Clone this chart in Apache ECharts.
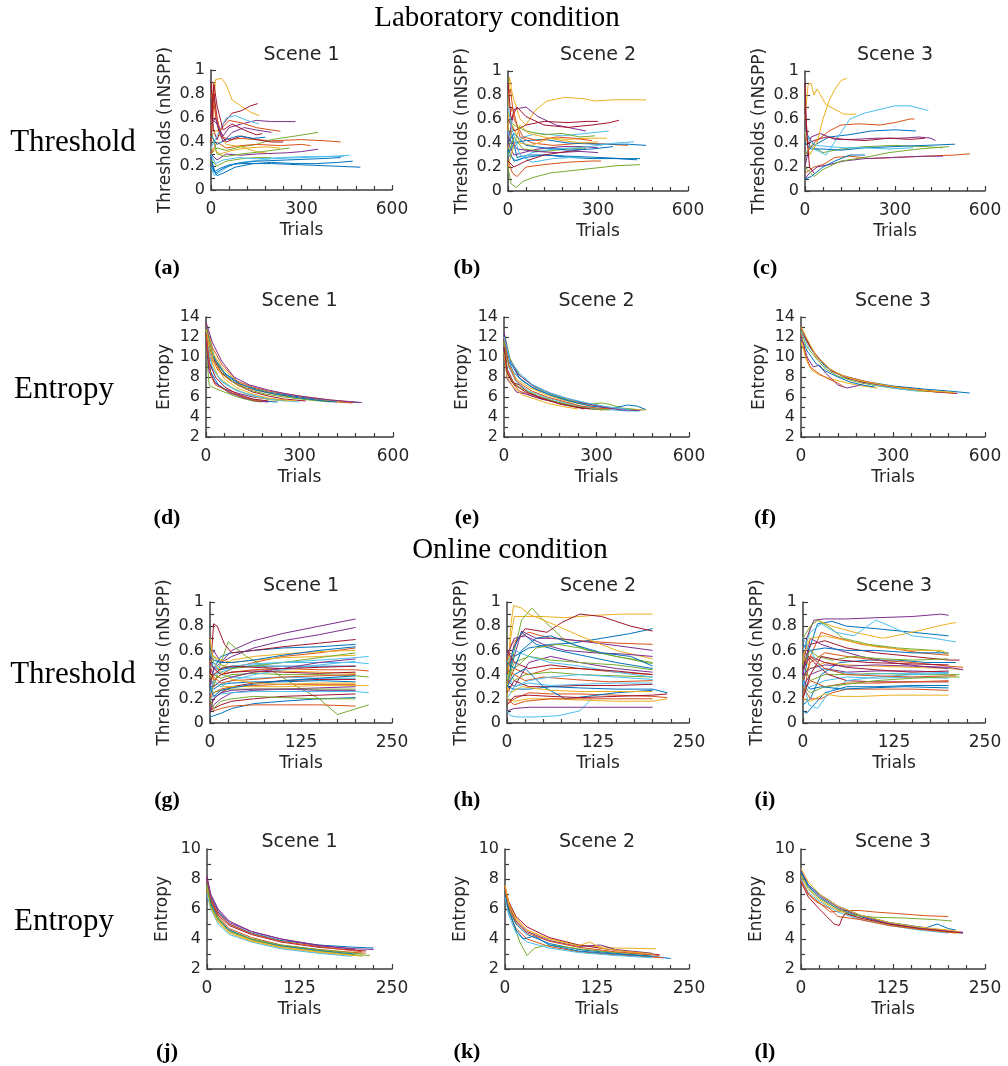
<!DOCTYPE html>
<html><head><meta charset="utf-8">
<script src="https://cdn.jsdelivr.net/npm/echarts@6/dist/echarts.min.js"></script>
<style>html,body{margin:0;padding:0;background:#fff}#c{width:1008px;height:1066px}</style>
</head><body><div id="c"></div>
<script>
// ---- DATA: each line = flat list x0,y0,x1,y1,... ----
const labScene1Thr = [
 [0,0.3,10,0.15,30,0.18,60,0.21,100,0.22,200,0.22,300,0.21,400,0.2,495,0.19],
 [0,0.5,8,0.9,15,0.6,30,0.45,60,0.42,100,0.43,200,0.41,300,0.42,380,0.41,430,0.40],
 [0,0.4,15,0.92,35,0.93,50,0.88,70,0.75,100,0.7,130,0.65,160,0.62],
 [0,0.6,20,0.55,40,0.45,60,0.52,100,0.55,150,0.58,200,0.57,280,0.57],
 [0,0.3,20,0.35,50,0.33,100,0.36,150,0.38,200,0.42,280,0.45,355,0.48],
 [0,0.2,10,0.12,30,0.15,60,0.2,100,0.23,200,0.26,300,0.27,400,0.28,460,0.29],
 [0,0.9,8,0.5,20,0.42,40,0.55,70,0.64,100,0.66,130,0.7,155,0.72],
 [0,0.25,15,0.14,40,0.18,80,0.22,150,0.24,250,0.25,350,0.26,430,0.27],
 [0,0.3,20,0.4,50,0.35,100,0.37,150,0.38,230,0.37,300,0.38,330,0.37],
 [0,0.45,20,0.5,50,0.38,100,0.36,150,0.32,200,0.3],
 [0,0.3,20,0.25,50,0.3,100,0.29,150,0.3,250,0.31,300,0.32,355,0.34],
 [0,0.5,20,0.3,50,0.28,100,0.3,170,0.32,230,0.34,260,0.35],
 [0,0.35,20,0.45,50,0.6,80,0.62,120,0.58,160,0.55],
 [0,0.4,10,0.8,25,0.5,50,0.4,100,0.45,150,0.42,200,0.40,240,0.4],
 [0,0.45,20,0.38,50,0.42,90,0.45,140,0.43,180,0.44],
 [0,0.8,10,0.7,30,0.5,60,0.58,100,0.56,150,0.52,200,0.5,230,0.49],
 [0,0.35,30,0.3,70,0.33,120,0.35,180,0.36,230,0.35],
 [0,0.55,15,0.6,40,0.4,70,0.48,110,0.52,150,0.5,200,0.48],
 [0,0.25,20,0.2,50,0.24,100,0.26,150,0.27,200,0.27],
 [0,0.3,15,0.22,40,0.25,90,0.27,150,0.26,230,0.27,330,0.28,440,0.28],
 [0,0.6,10,0.88,20,0.7,40,0.5,70,0.55,110,0.5,150,0.46,170,0.47],
 [0,0.2,20,0.12,40,0.14,80,0.19,140,0.22,200,0.23,280,0.22,350,0.22,420,0.23,470,0.24]
];
const labScene2Thr = [
 [0,0.3,10,0.5,30,0.28,70,0.3,130,0.3,200,0.28,280,0.27,360,0.27,430,0.26],
 [0,0.6,15,0.7,40,0.45,80,0.4,150,0.38,250,0.4,330,0.39,400,0.38],
 [0,0.5,5,0.95,15,0.8,40,0.6,60,0.55,90,0.67,130,0.75,190,0.78,250,0.77,290,0.75,350,0.76,400,0.76,460,0.76],
 [0,0.4,20,0.68,60,0.7,100,0.62,160,0.55,220,0.52,260,0.5],
 [0,0.2,10,0.06,28,0.03,50,0.08,80,0.11,140,0.15,250,0.18,360,0.21,440,0.22],
 [0,0.5,15,0.35,50,0.45,100,0.48,180,0.46,260,0.48,336,0.5],
 [0,0.9,10,0.6,30,0.7,60,0.62,120,0.55,200,0.53,280,0.55,340,0.57,370,0.59],
 [0,0.3,20,0.4,60,0.42,120,0.43,200,0.4,300,0.39,400,0.39,460,0.38],
 [0,0.25,15,0.15,30,0.12,60,0.2,120,0.22,200,0.24,280,0.25,310,0.25],
 [0,0.35,15,0.55,40,0.4,80,0.38,140,0.44,200,0.43,270,0.44,330,0.44],
 [0,0.4,20,0.3,50,0.32,100,0.35,180,0.37,250,0.37,300,0.36],
 [0,0.3,20,0.45,50,0.35,120,0.33,200,0.35,260,0.36],
 [0,0.3,30,0.25,80,0.32,150,0.35,230,0.36,300,0.38,360,0.4,420,0.41],
 [0,0.6,20,0.5,60,0.55,120,0.58,200,0.57,260,0.58,300,0.58],
 [0,0.35,20,0.25,60,0.28,120,0.3,200,0.29,300,0.28,380,0.27,440,0.27],
 [0,0.8,8,0.85,20,0.6,50,0.45,100,0.42,160,0.45,220,0.44,280,0.42],
 [0,0.2,10,0.3,40,0.55,70,0.48,120,0.45,180,0.42,250,0.4,300,0.41],
 [0,0.45,30,0.35,90,0.33,160,0.32,240,0.33,300,0.32],
 [0,0.6,20,0.55,60,0.5,120,0.47,180,0.48,240,0.45,290,0.46],
 [0,0.7,15,0.5,40,0.3,80,0.24,150,0.27,210,0.28,250,0.28],
 [0,0.25,20,0.2,60,0.25,120,0.3,200,0.33,260,0.35],
 [0,0.4,20,0.48,60,0.38,120,0.36,200,0.34,280,0.35,350,0.37]
];
const labScene3Thr = [
 [0,0.5,30,0.38,80,0.45,150,0.47,220,0.5,300,0.51,370,0.5],
 [0,0.3,30,0.4,80,0.5,120,0.55,180,0.56,250,0.55,300,0.57,350,0.6,365,0.6],
 [0,0.6,10,0.88,20,0.9,30,0.8,40,0.85,70,0.72,100,0.68,130,0.64,170,0.64],
 [0,0.2,20,0.45,50,0.48,100,0.43,160,0.43,240,0.44,320,0.44,380,0.45,420,0.44,435,0.42],
 [0,0.3,20,0.38,60,0.32,120,0.35,200,0.37,300,0.38,400,0.37,460,0.36],
 [0,0.4,30,0.35,70,0.3,110,0.45,150,0.6,200,0.65,250,0.68,300,0.71,350,0.71,411,0.67],
 [0,0.7,10,0.4,30,0.42,70,0.45,130,0.43,200,0.42,280,0.44,350,0.43,400,0.44],
 [0,0.4,20,0.35,60,0.35,120,0.34,200,0.36,300,0.37,400,0.38,500,0.39],
 [0,0.15,30,0.2,60,0.22,100,0.28,150,0.29,220,0.27,300,0.28,400,0.29,500,0.3,550,0.31],
 [0,0.5,15,0.3,40,0.4,60,0.6,80,0.75,100,0.85,120,0.92,140,0.94],
 [0,0.1,15,0.15,40,0.2,80,0.22,130,0.25,200,0.27,300,0.28,400,0.29,460,0.29],
 [0,0.2,30,0.12,60,0.18,120,0.25,200,0.28,280,0.32,380,0.35,480,0.37],
 [0,0.5,15,0.42,40,0.38,80,0.37,130,0.36,200,0.36,280,0.35,360,0.36],
 [0,0.9,5,0.5,15,0.2,30,0.15],
 [0,0.1,20,0.12,60,0.2,100,0.25,150,0.3,200,0.3]
];
const labScene1Ent = [
 [0,13,10,11,30,9.5,60,8.3,100,7.4,150,6.9,200,6.5,300,6,400,5.6,490,5.45],
 [0,12.5,15,10,40,8.6,80,7.6,130,6.9,200,6.4,300,5.9,400,5.55,470,5.4],
 [0,13,20,10.5,50,9,100,7.5,150,6.8,250,6.1,350,5.7,440,5.5],
 [0,12,10,9,25,7.5,60,6.8,100,6.4,150,6,200,5.8,250,5.7],
 [0,11,10,7.2,20,7,50,6.6,100,6,150,5.6,180,5.5],
 [0,12.5,20,9,50,7.5,100,6.6,150,6.2,200,5.8,280,5.55,300,5.5],
 [0,13,20,10,50,8.4,100,7.2,150,6.5,200,6.1,250,5.8,320,5.6],
 [0,12,15,8.5,40,7.2,80,6.4,130,5.9,180,5.6,230,5.5],
 [0,13.2,20,11,50,9.3,100,7.6,150,7,200,6.6,300,6.1,400,5.7,480,5.45],
 [0,12.8,15,9.8,40,8,80,7,120,6.4,160,6,210,5.7,260,5.6],
 [0,11.5,10,8.5,30,7.4,70,6.5,120,5.9,160,5.6,200,5.5],
 [0,13,30,9.7,60,8.2,100,7.2,140,6.7,190,6.3,250,6,330,5.7,400,5.5],
 [0,12,20,8.8,50,7.6,90,6.8,140,6.2,200,5.8,260,5.6],
 [0,12.5,10,9.5,30,8,60,7,100,6.3,150,5.8,200,5.6],
 [0,13,20,10.2,60,8.4,110,7.3,160,6.7,220,6.3,300,5.9,380,5.6,420,5.5],
 [0,12.2,15,8.2,30,7.2,70,6.6,110,6.1,150,5.7,180,5.6],
 [0,12.8,25,9.5,60,7.8,100,6.9,150,6.3,200,5.9,250,5.7,290,5.6],
 [0,13.5,20,11.5,50,9.6,90,8,140,7.2,200,6.7,260,6.3,320,6,400,5.7,500,5.45]
];
const labScene2Ent = [
 [0,12.5,10,10,30,8.5,60,7.6,100,6.8,160,6.1,220,5.6,300,5.1,380,4.8,450,4.7],
 [0,11.5,10,8.5,30,7.3,50,6.6,100,6,150,5.6,200,5.2,260,4.9,320,4.7],
 [0,12,15,9.3,40,7.8,80,7,130,6.3,190,5.7,250,5.3,330,5,400,4.8,460,4.7],
 [0,11,10,7.8,25,7.2,40,6.5,70,6.3,120,5.8,180,5.4,240,5,300,4.75],
 [0,12.5,20,9.8,50,8.2,100,7,160,6.2,220,5.6,280,5.3,320,5.4,350,5.2,380,4.9,430,4.75],
 [0,12,15,9,40,7.5,80,6.6,140,5.9,200,5.4,260,5,330,4.75,400,4.6,440,4.6],
 [0,11.8,10,8.8,35,7.2,70,6.5,120,5.9,170,5.5,220,5.1,260,4.8],
 [0,12.2,20,9.5,50,7.9,90,7,150,6.2,210,5.6,280,5.1,350,4.85,400,5.2,430,5.1,460,4.75],
 [0,12,15,9.2,40,7.6,90,6.6,140,6,200,5.5,250,5.1,300,4.9,350,4.8],
 [0,10.5,10,8,30,7,60,6.2,100,5.8,150,5.3,200,5,240,4.8],
 [0,12.5,15,10,45,8.3,90,7.2,150,6.4,200,5.9,260,5.4,320,5.0,380,4.7,440,4.65],
 [0,11.5,12,8.3,30,7.4,60,6.8,110,6.1,170,5.5,230,5.1,290,4.8,340,4.7],
 [0,12,20,9.6,50,8.4,90,7.3,140,6.5,200,5.9,270,5.4,340,5.0,410,4.75],
 [0,11,10,8.5,25,7.5,50,7.2,80,6.4,130,5.8,180,5.3,230,5.0,280,4.8]
];
const labScene3Ent = [
 [0,13,15,12,40,10.5,80,9,130,8.2,200,7.6,300,7.1,400,6.8,480,6.6,550,6.4],
 [0,12.5,20,11.5,50,10,100,8.6,150,8,220,7.5,300,7,400,6.7,500,6.4],
 [0,11.5,20,9.5,35,8.7,60,8.2,100,7.8,150,7.4,200,7.1,250,6.9],
 [0,12,20,10,40,9,60,9.2,80,8.4,120,7.2,150,6.9,180,7.1,210,7.4],
 [0,12.8,15,11.2,40,10.2,80,8.8,120,8.1,170,7.6,230,7.2,300,6.9,380,6.6,450,6.5],
 [0,12.5,25,11,50,10.2,90,8.8,140,8,200,7.5,260,7.1,320,6.8,380,6.6],
 [0,13,10,12.2,30,11,60,9.8,100,8.6,150,7.9,200,7.5,280,7.1,360,6.8,440,6.5,510,6.35],
 [0,12,20,10.6,50,9.3,80,8.6,120,8,160,7.5,200,7.2,240,7.0],
 [0,12.3,15,10.2,30,9,60,8.3,90,7.8,120,7.4,140,7],
 [0,13,20,11.8,50,10.1,90,8.9,130,8.2,180,7.7,250,7.3,330,6.9,420,6.6,500,6.45]
];
const onScene1Thr = [
 [0,0.55,5,0.45,15,0.55,30,0.58,60,0.6,100,0.62,150,0.63,200,0.65],
 [0,0.2,5,0.35,15,0.4,30,0.45,60,0.5,100,0.55,150,0.58,200,0.62],
 [0,0.6,5,0.5,15,0.45,30,0.52,60,0.55,100,0.57,150,0.59,200,0.6],
 [0,0.5,5,0.6,15,0.5,30,0.6,60,0.68,100,0.74,150,0.8,200,0.86],
 [0,0.4,5,0.3,15,0.5,25,0.67,35,0.62,50,0.55,80,0.45,120,0.3,150,0.2,175,0.07,218,0.15],
 [0,0.45,5,0.4,15,0.42,30,0.45,60,0.48,100,0.5,150,0.5,200,0.5,218,0.49],
 [0,0.4,5,0.82,10,0.8,20,0.65,30,0.58,60,0.6,100,0.63,150,0.66,200,0.69],
 [0,0.3,5,0.45,15,0.44,30,0.46,60,0.47,100,0.47,150,0.47,200,0.47],
 [0,0.5,5,0.35,15,0.4,30,0.42,60,0.44,100,0.45,150,0.44,200,0.44,218,0.43],
 [0,0.25,5,0.3,15,0.35,30,0.38,60,0.42,100,0.43,150,0.42,200,0.41],
 [0,0.3,5,0.45,15,0.5,30,0.55,60,0.62,100,0.68,150,0.73,200,0.79],
 [0,0.35,5,0.4,15,0.37,30,0.4,60,0.41,100,0.4,150,0.4,200,0.39,218,0.38],
 [0,0.6,5,0.5,15,0.4,30,0.38,60,0.37,100,0.38,150,0.37,200,0.37],
 [0,0.15,5,0.2,15,0.25,30,0.3,60,0.33,100,0.35,150,0.36,200,0.36],
 [0,0.3,5,0.28,15,0.32,30,0.33,60,0.34,100,0.34,150,0.35,200,0.34],
 [0,0.2,5,0.25,15,0.28,30,0.3,60,0.31,100,0.32,150,0.32,200,0.32],
 [0,0.4,5,0.35,15,0.3,30,0.3,60,0.3,100,0.3,150,0.31,200,0.31,218,0.31],
 [0,0.1,5,0.15,15,0.2,30,0.25,60,0.27,100,0.28,150,0.29,200,0.3],
 [0,0.3,5,0.25,15,0.27,30,0.28,60,0.28,100,0.28,150,0.28,200,0.28],
 [0,0.2,5,0.22,15,0.24,30,0.25,60,0.26,100,0.26,150,0.26,200,0.26,218,0.25],
 [0,0.1,5,0.12,15,0.15,30,0.18,60,0.2,100,0.22,150,0.23,200,0.24],
 [0,0.05,5,0.06,15,0.08,30,0.12,60,0.16,100,0.18,150,0.2,200,0.21],
 [0,0.15,5,0.1,15,0.12,30,0.14,60,0.15,100,0.15,150,0.15,200,0.14],
 [0,0.5,5,0.55,15,0.52,30,0.5,60,0.52,100,0.54,150,0.55,200,0.56],
 [0,0.35,5,0.3,15,0.35,30,0.38,60,0.42,100,0.45,150,0.5,200,0.53],
 [0,0.6,5,0.55,15,0.48,30,0.45,60,0.47,100,0.5,150,0.54,200,0.58],
 [0,0.25,5,0.35,15,0.3,30,0.35,60,0.4,100,0.44,150,0.48,200,0.51],
 [0,0.5,5,0.45,15,0.4,30,0.42,60,0.43,100,0.42,150,0.41,200,0.42],
 [0,0.3,5,0.22,15,0.27,30,0.29,60,0.32,100,0.35,150,0.37,200,0.39],
 [0,0.4,5,0.38,15,0.33,30,0.35,60,0.36,100,0.38,150,0.39,200,0.4],
 [0,0.7,5,0.5,15,0.42,30,0.36,60,0.33,100,0.32,150,0.33,200,0.33],
 [0,0.1,5,0.2,15,0.25,30,0.27,60,0.28,100,0.28,150,0.27,200,0.27],
 [0,0.2,5,0.12,15,0.18,30,0.2,60,0.22,100,0.21,150,0.2,200,0.2],
 [0,0.45,5,0.5,15,0.45,30,0.47,60,0.49,100,0.5,150,0.52,200,0.54,218,0.55],
 [0,0.35,5,0.4,15,0.45,30,0.47,60,0.46,100,0.45,150,0.46,200,0.47],
 [0,0.55,5,0.52,15,0.5,30,0.5,60,0.52,100,0.56,150,0.6,200,0.63]
];
const onScene2Thr = [
 [0,0.35,10,0.55,30,0.62,60,0.65,90,0.66,130,0.7,170,0.74,200,0.78],
 [0,0.5,5,0.65,15,0.7,30,0.75,60,0.7,100,0.68,150,0.66,200,0.65],
 [0,0.3,5,0.7,10,0.88,25,0.88,50,0.88,80,0.87,120,0.89,160,0.9,200,0.9],
 [0,0.6,10,0.55,20,0.76,40,0.7,70,0.7,110,0.67,150,0.64,200,0.6],
 [0,0.3,10,0.6,20,0.85,34,0.95,50,0.85,80,0.68,110,0.6,150,0.55,200,0.49],
 [0,0.1,5,0.06,15,0.05,40,0.05,70,0.06,100,0.1,116,0.2],
 [0,0.4,10,0.65,25,0.78,35,0.77,55,0.75,75,0.83,100,0.9,130,0.88,170,0.8,200,0.76],
 [0,0.25,8,0.6,20,0.75,40,0.65,70,0.6,110,0.55,150,0.5,200,0.45],
 [0,0.3,10,0.45,30,0.4,60,0.45,100,0.45,150,0.42,200,0.4],
 [0,0.2,5,0.8,9,0.97,20,0.95,30,0.9,50,0.85,70,0.8,100,0.72,150,0.6,200,0.53],
 [0,0.35,10,0.3,30,0.5,60,0.55,100,0.5,150,0.45,200,0.42],
 [0,0.45,10,0.35,25,0.4,60,0.42,100,0.4,150,0.39,200,0.38],
 [0,0.4,10,0.3,30,0.33,60,0.31,100,0.32,150,0.33,200,0.33],
 [0,0.25,10,0.35,30,0.3,60,0.3,100,0.31,150,0.31,200,0.32],
 [0,0.3,10,0.28,30,0.28,60,0.3,100,0.29,150,0.28,200,0.28,220,0.25],
 [0,0.15,10,0.2,30,0.25,60,0.24,100,0.24,150,0.23,200,0.22,220,0.21],
 [0,0.2,10,0.18,30,0.2,60,0.2,100,0.19,150,0.18,200,0.18,220,0.2],
 [0,0.1,10,0.12,30,0.13,60,0.13,100,0.13,150,0.13,200,0.13],
 [0,0.35,10,0.5,30,0.55,60,0.52,100,0.5,150,0.48,200,0.44],
 [0,0.5,10,0.6,30,0.55,60,0.5,100,0.47,150,0.42,200,0.38],
 [0,0.6,10,0.5,30,0.45,60,0.48,100,0.45,150,0.43,200,0.4],
 [0,0.3,10,0.4,25,0.45,50,0.3,80,0.2,110,0.22,150,0.25,200,0.27],
 [0,0.45,10,0.4,25,0.35,50,0.38,90,0.36,140,0.34,200,0.35],
 [0,0.3,5,0.25,20,0.3,60,0.27,100,0.26,150,0.26,200,0.26],
 [0,0.55,10,0.7,25,0.72,50,0.65,80,0.6,120,0.58,160,0.57,200,0.55],
 [0,0.4,10,0.45,20,0.5,40,0.62,70,0.65,100,0.62,150,0.55,200,0.5],
 [0,0.2,10,0.3,30,0.35,60,0.38,100,0.4,150,0.38,200,0.36],
 [0,0.15,10,0.22,30,0.23,60,0.22,100,0.21,150,0.22,200,0.23,220,0.24],
 [0,0.5,10,0.45,20,0.6,40,0.7,60,0.72,90,0.65,130,0.58,170,0.55,200,0.47],
 [0,0.2,10,0.15,25,0.18,60,0.2,100,0.2,150,0.2,200,0.2]
];
const onScene3Thr = [
 [0,0.3,8,0.6,20,0.82,40,0.84,60,0.8,100,0.78,150,0.75,200,0.72],
 [0,0.2,10,0.55,25,0.75,50,0.7,80,0.65,120,0.62,160,0.58,200,0.56],
 [0,0.5,10,0.8,20,0.85,40,0.8,70,0.75,110,0.7,150,0.75,185,0.8,200,0.82,210,0.83],
 [0,0.4,5,0.7,15,0.85,30,0.86,60,0.86,100,0.87,150,0.88,190,0.9,200,0.89],
 [0,0.7,10,0.8,20,0.85,35,0.8,55,0.7,90,0.65,130,0.62,180,0.6,200,0.57],
 [0,0.6,10,0.75,25,0.82,45,0.75,70,0.72,100,0.85,120,0.8,150,0.72,180,0.7,200,0.68,210,0.67],
 [0,0.45,10,0.65,30,0.68,60,0.62,100,0.58,150,0.55,200,0.52,215,0.52],
 [0,0.15,10,0.2,25,0.4,50,0.5,90,0.52,130,0.52,170,0.5,210,0.5],
 [0,0.35,10,0.5,30,0.58,60,0.55,100,0.52,150,0.5,200,0.47,220,0.46],
 [0,0.55,10,0.45,30,0.5,60,0.48,100,0.47,150,0.46,200,0.45,220,0.44],
 [0,0.3,10,0.4,30,0.45,60,0.42,100,0.43,150,0.43,200,0.42],
 [0,0.5,10,0.35,30,0.4,60,0.4,100,0.41,150,0.4,200,0.4,215,0.4],
 [0,0.25,10,0.3,30,0.35,60,0.38,100,0.37,150,0.38,200,0.37],
 [0,0.6,15,0.5,35,0.4,60,0.35,100,0.34,150,0.34,200,0.34],
 [0,0.1,5,0.08,15,0.15,30,0.25,60,0.3,100,0.3,150,0.31,200,0.31],
 [0,0.3,10,0.2,25,0.2,40,0.25,60,0.28,100,0.28,150,0.28,200,0.27],
 [0,0.2,10,0.18,30,0.24,50,0.22,80,0.22,120,0.23,160,0.23,200,0.23],
 [0,0.4,10,0.7,25,0.65,50,0.6,80,0.55,120,0.5,160,0.47,200,0.45],
 [0,0.5,10,0.6,20,0.55,40,0.52,70,0.55,110,0.53,150,0.52,200,0.53],
 [0,0.35,8,0.15,20,0.12,35,0.25,60,0.35,100,0.38,150,0.4,200,0.41],
 [0,0.45,10,0.55,30,0.5,60,0.46,100,0.44,150,0.42,200,0.43],
 [0,0.65,10,0.6,30,0.62,60,0.6,100,0.6,150,0.58,200,0.58],
 [0,0.25,10,0.35,30,0.3,60,0.33,100,0.33,150,0.34,200,0.35],
 [0,0.55,10,0.7,30,0.72,60,0.68,100,0.63,150,0.6,190,0.6,200,0.57],
 [0,0.4,10,0.45,30,0.48,60,0.47,100,0.48,150,0.47,200,0.46,220,0.44],
 [0,0.3,10,0.25,30,0.3,60,0.32,100,0.35,150,0.37,200,0.38,215,0.38],
 [0,0.7,10,0.6,25,0.45,50,0.42,80,0.4,120,0.41,160,0.41,200,0.42],
 [0,0.2,10,0.4,25,0.55,50,0.52,90,0.5,140,0.49,200,0.48],
 [0,0.35,10,0.28,25,0.3,55,0.28,90,0.29,140,0.3,200,0.29],
 [0,0.5,10,0.55,30,0.45,60,0.4,100,0.39,150,0.38,200,0.39,210,0.39]
];
const onScene1Ent = [
 [0,8,5,6.8,15,5.8,30,5,60,4.4,100,3.9,150,3.6,200,3.45,225,3.4],
 [0,7.8,5,6.5,15,5.5,30,4.7,60,4.1,100,3.6,150,3.3,200,3.1,215,3.05],
 [0,7.5,5,6.2,15,5.2,30,4.5,60,3.9,100,3.4,150,3.1,200,2.9,210,2.85],
 [0,8.2,5,7,15,6,30,5.2,60,4.5,100,4,150,3.6,200,3.3],
 [0,7.6,5,6.3,15,5.4,30,4.6,60,3.95,100,3.5,150,3.2,200,2.95,220,2.9],
 [0,7,5,6,15,5,30,4.3,60,3.8,100,3.35,150,3.05,195,2.85],
 [0,8.1,5,6.6,15,5.6,30,4.9,60,4.3,100,3.8,150,3.45,200,3.25,215,3.2],
 [0,7.7,5,6.4,15,5.3,30,4.6,60,4.0,100,3.55,150,3.25,200,3.0],
 [0,7.9,5,6.7,15,5.7,30,5.0,60,4.35,100,3.85,150,3.5,200,3.2,210,3.15],
 [0,7.4,5,6.1,15,5.1,30,4.4,60,3.85,100,3.45,150,3.15,200,2.9],
 [0,8,5,6.9,15,5.9,30,5.1,60,4.5,100,4.0,150,3.55,200,3.35,225,3.3],
 [0,7.6,5,6.2,15,5.3,30,4.5,60,4.0,100,3.6,150,3.3,200,3.05,210,3.0]
];
const onScene2Ent = [
 [0,7.2,5,6,15,5,30,4.3,60,3.7,100,3.3,150,3.05,200,2.85,225,2.7],
 [0,7,5,5.8,15,4.7,30,4.0,60,3.5,100,3.15,150,2.95,200,2.8,215,2.75],
 [0,7.5,5,6.4,15,5.4,30,4.6,60,4.0,100,3.6,150,3.4,205,3.35],
 [0,7.4,5,6.3,15,5.2,30,4.5,60,3.9,100,3.5,130,3.6,150,3.3,200,3.05],
 [0,7.3,5,6.1,12,5,20,3.8,30,2.9,40,3.4,60,3.6,100,3.35,150,3.1,200,2.95],
 [0,6.8,5,5.6,15,4.4,30,3.8,60,3.4,100,3.1,150,2.9,200,2.75],
 [0,7.5,5,6.5,15,5.5,30,4.8,60,4.1,100,3.6,150,3.25,200,3.0,210,2.95],
 [0,7.1,5,5.9,15,4.6,25,4.0,40,4.2,60,3.6,100,3.2,150,3.0,200,2.85],
 [0,7.3,5,6.2,15,5.1,30,4.4,60,3.85,100,3.45,150,3.15,200,2.95,210,2.9],
 [0,7.6,5,6.4,15,5.3,30,4.6,60,4.0,100,3.55,115,3.8,130,3.4,160,3.2,200,3.0]
];
const onScene3Ent = [
 [0,8.5,10,7.5,25,6.8,50,6.0,80,5.5,120,5.0,160,4.7,200,4.5,220,4.4],
 [0,8,10,7,25,6.4,40,5.8,60,5.9,80,5.9,100,5.8,130,5.7,170,5.55,200,5.5],
 [0,8.2,10,7.3,25,6.6,50,5.9,80,5.4,120,4.95,160,4.65,200,4.45,215,4.4],
 [0,8.6,10,7.6,25,6.9,50,6.1,80,5.55,120,5.05,160,4.75,200,4.55,220,4.45],
 [0,8.3,10,7.4,25,6.7,50,6.0,70,5.6,100,5.45,140,5.4,180,5.3,205,5.2],
 [0,8.0,10,7.1,25,6.5,50,5.8,80,5.3,120,4.9,160,4.6,200,4.4],
 [0,7.8,10,6.8,25,6.0,35,5.5,45,5.0,52,4.9,56,5.4,60,5.7,80,5.4,120,5.0,160,4.7,200,4.5,220,4.4],
 [0,8.4,10,7.6,25,7.0,50,6.2,80,5.6,120,5.1,170,4.75,185,5.0,200,4.7,210,4.6],
 [0,7.9,10,7.0,20,6.5,40,6.0,50,5.5,80,5.3,120,4.9,160,4.65,200,4.45,210,4.4],
 [0,8.7,10,7.8,25,7.0,50,6.2,80,5.6,120,5.1,160,4.8,200,4.6,215,4.5]
];

// tick/axis definitions
const threshTicks = {min:0, max:1, interval:0.2};
const labEntTicks = {min:2, max:14, interval:2};
const onEntTicks = {min:2, max:10, interval:2};
const labTrials = {max:600, interval:300};
const onTrials = {max:250, interval:125};
const sceneTitles = ['Scene 1','Scene 2','Scene 3'];
const panelLetters = ['(a)','(b)','(c)','(d)','(e)','(f)','(g)','(h)','(i)','(j)','(k)','(l)'];

// ---- LAYOUT ----
const palette = ['#0072BD','#D95319','#EDB120','#7E2F8E','#77AC30','#4DBEEE','#A2142F'];
const panels = [
 {d:labScene1Thr, g:[211,70,181,120], x:labTrials, y:threshTicks, name:'Thresholds (nNSPP)', gap:37},
 {d:labScene2Thr, g:[508,71,180,120], x:labTrials, y:threshTicks, name:'Thresholds (nNSPP)', gap:37},
 {d:labScene3Thr, g:[805,71,180,120], x:labTrials, y:threshTicks, name:'Thresholds (nNSPP)', gap:37},
 {d:labScene1Ent, g:[206,317,187,120], x:labTrials, y:labEntTicks, name:'Entropy', gap:33},
 {d:labScene2Ent, g:[504,317,185,120], x:labTrials, y:labEntTicks, name:'Entropy', gap:33},
 {d:labScene3Ent, g:[801,317,184,120], x:labTrials, y:labEntTicks, name:'Entropy', gap:33},
 {d:onScene1Thr, g:[210,602,182,121], x:onTrials, y:threshTicks, name:'Thresholds (nNSPP)', gap:37},
 {d:onScene2Thr, g:[507,602,182,121], x:onTrials, y:threshTicks, name:'Thresholds (nNSPP)', gap:37},
 {d:onScene3Thr, g:[803,602,182,121], x:onTrials, y:threshTicks, name:'Thresholds (nNSPP)', gap:37},
 {d:onScene1Ent, g:[207,849,185,120], x:onTrials, y:onEntTicks, name:'Entropy', gap:36},
 {d:onScene2Ent, g:[505,849,184,120], x:onTrials, y:onEntTicks, name:'Entropy', gap:36},
 {d:onScene3Ent, g:[801,849,184,120], x:onTrials, y:onEntTicks, name:'Entropy', gap:36}
];
const letterPos = [[167,268],[467,268],[765,268],[167,518],[467,518],[765,518],[167,800],[467,800],[765,800],[167,1052],[467,1052],[765,1052]];

const TXT = '#262626', AX = '#3c3c3c', SANS = 'DejaVu Sans', SERIF = 'Liberation Serif';
const grids=[], xAxes=[], yAxes=[], series=[], graphics=[];
panels.forEach((p,i)=>{
  grids.push({left:p.g[0], top:p.g[1], width:p.g[2], height:p.g[3], containLabel:false});
  xAxes.push({gridIndex:i, type:'value', min:0, max:p.x.max, interval:p.x.interval,
    name:'Trials', nameLocation:'middle', nameGap:32, nameTextStyle:{fontFamily:SANS, fontSize:17, color:TXT},
    axisLine:{show:true, onZero:false, lineStyle:{color:AX, width:1.5}},
    axisTick:{show:true, inside:true, length:5, lineStyle:{color:AX, width:1.2}},
    minorTick:{show:true, splitNumber:5, length:4, lineStyle:{color:AX, width:1.2}},
    axisLabel:{fontFamily:SANS, fontSize:17, color:TXT, margin:11},
    splitLine:{show:false}});
  yAxes.push({gridIndex:i, type:'value', min:p.y.min, max:p.y.max, interval:p.y.interval,
    name:p.name, nameLocation:'middle', nameGap:p.gap, nameRotate:90, nameTextStyle:{fontFamily:SANS, fontSize:17, color:TXT},
    axisLine:{show:true, onZero:false, lineStyle:{color:AX, width:1.5}},
    axisTick:{show:true, inside:true, length:5, lineStyle:{color:AX, width:1.2}},
    minorTick:{show:true, splitNumber:2, length:4, lineStyle:{color:AX, width:1.2}},
    axisLabel:{fontFamily:SANS, fontSize:16, color:TXT, margin:6},
    splitLine:{show:false}});
  p.d.forEach((flat,k)=>{
    const pts=[]; for(let j=0;j<flat.length;j+=2) pts.push([flat[j],flat[j+1]]);
    series.push({type:'line', xAxisIndex:i, yAxisIndex:i, data:pts, symbol:'none', showSymbol:false,
      lineStyle:{width:1, color:palette[k%palette.length]}, silent:true, clip:true, z:2});
  });
  const cx = p.g[0] + p.g[2]/2;
  const ty = [55,301,586,842][Math.floor(i/3)];
  graphics.push({type:'text', x:cx, y:ty, style:{text:sceneTitles[i%3], fontFamily:SANS, fontSize:19, fill:TXT, align:'center', verticalAlign:'middle'}});
  graphics.push({type:'text', x:letterPos[i][0], y:letterPos[i][1], style:{text:panelLetters[i], fontFamily:SERIF, fontWeight:'bold', fontSize:22, fill:'#000', align:'center', verticalAlign:'middle'}});
});
[['Laboratory condition',497,18,29],['Online condition',510,550,29]].forEach(t=>{
  graphics.push({type:'text', x:t[1], y:t[2], style:{text:t[0], fontFamily:SERIF, fontSize:t[3], fill:'#000', align:'center', verticalAlign:'middle'}});
});
[['Threshold',73,143],['Entropy',64,390],['Threshold',73,675],['Entropy',64,922]].forEach(t=>{
  graphics.push({type:'text', x:t[1], y:t[2], style:{text:t[0], fontFamily:SERIF, fontSize:31, fill:'#000', align:'center', verticalAlign:'middle'}});
});

const chart = echarts.init(document.getElementById('c'), null, {renderer:'canvas'});
chart.setOption({animation:false, backgroundColor:'#fff', grid:grids, xAxis:xAxes, yAxis:yAxes, series:series, graphic:graphics});
</script></body></html>
